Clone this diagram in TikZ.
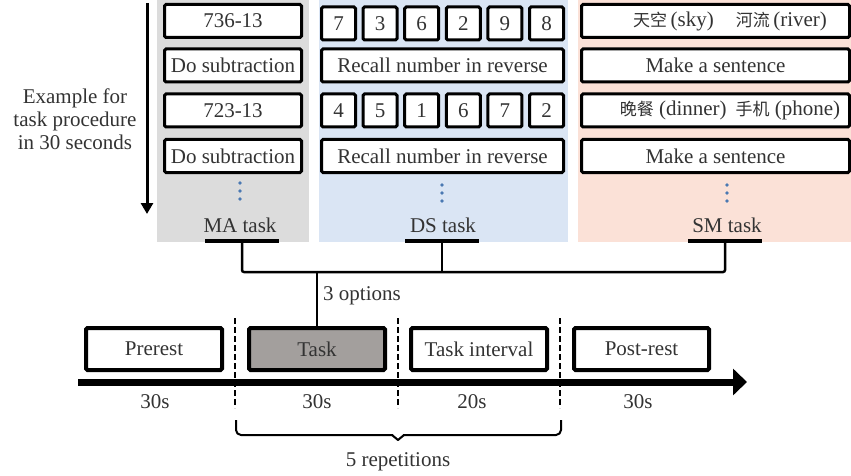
\documentclass[tikz,border=0pt]{standalone}
\usepackage{fontspec}
\setmainfont{Liberation Serif}
\newfontfamily\cjk{Noto Sans CJK SC}
\usetikzlibrary{arrows.meta}

\definecolor{ink}{HTML}{333333}
\definecolor{magray}{HTML}{DCDCDC}
\definecolor{dsblue}{HTML}{DAE5F4}
\definecolor{smpink}{HTML}{FBE1D7}
\definecolor{taskgray}{HTML}{A39F9D}
\definecolor{dotblue}{HTML}{4A78B2}

\begin{document}
\begin{tikzpicture}[x=1pt,y=-1pt,
  lbl/.style={text=ink, font=\fontsize{21}{23}\selectfont, inner sep=0pt, align=center},
  cell/.style={draw=black, line width=3pt, rounded corners=1.5pt, fill=white,
    minimum height=33pt, inner sep=0pt, outer sep=0pt, text=ink,
    font=\fontsize{21}{23}\selectfont},
  digit/.style={cell, minimum width=34pt},
  wide/.style={cell, minimum width=242pt},
  macell/.style={cell, minimum width=137pt},
  smcell/.style={cell, minimum width=268pt},
  stage/.style={cell, line width=4pt, minimum height=42pt, minimum width=136pt},
  bar/.style={fill=black, minimum width=74pt, minimum height=4pt, inner sep=0pt, outer sep=0pt},
  link/.style={draw=black, line width=2.5pt, rounded corners=2pt},
  dot/.style={fill=dotblue, circle, inner sep=0pt, minimum size=3.6pt},
  sep/.style={draw=black, line width=2pt, dash pattern=on 6pt off 3pt}
]
\useasboundingbox (0,0) rectangle (851,476);

% coloured task panels
\fill[magray] (157,0) rectangle (309,242);
\fill[dsblue] (319,0) rectangle (568,242);
\fill[smpink] (578,0) rectangle (851,242);

% time direction of the example procedure
\coordinate (vtop) at (147,3);
\coordinate (vbot) at (147,214);
\draw[line width=3pt, -{Triangle[length=11pt,width=12pt]}] (vtop) -- (vbot);
\node[lbl] (example) at (75,119) {Example for\\task procedure\\in 30 seconds};

% MA task
\node[macell] (ma1) at (233,21) {736-13};
\node[macell] (ma2) at (233,65.5) {Do subtraction};
\node[macell] (ma3) at (233,110.5) {723-13};
\node[macell] (ma4) at (233,156) {Do subtraction};
\node[dot] (mad1) at (240,183) {};
\node[dot] (mad2) at (240,191) {};
\node[dot] (mad3) at (240,199) {};
\node[lbl] (malabel) at (240,225) {MA task};
\node[bar] (mabar) at (242,241) {};

% DS task
\foreach \d [count=\i] in {7,3,6,2,9,8}
  \node[digit] (dsa\i) at ({338.5+41.6*(\i-1)},23.5) {\d};
\node[wide] (ds2) at (442.5,65.5) {Recall number in reverse};
\foreach \d [count=\i] in {4,5,1,6,7,2}
  \node[digit] (dsb\i) at ({338.5+41.6*(\i-1)},110.5) {\d};
\node[wide] (ds4) at (442.5,156) {Recall number in reverse};
\node[dot] (dsd1) at (442,185) {};
\node[dot] (dsd2) at (442,193) {};
\node[dot] (dsd3) at (442,201) {};
\node[lbl] (dslabel) at (443,225) {DS task};
\node[bar] (dsbar) at (442,241) {};

% SM task
\node[smcell] (sm1) at (715.5,21) {};
\node[lbl] (sm1t) at (730,21) {{\cjk\fontsize{17}{20}\selectfont 天空}\,(sky)\hspace{22pt}{\cjk\fontsize{17}{20}\selectfont 河流}\,(river)};
\node[smcell] (sm2) at (715.5,65.5) {Make a sentence};
\node[smcell] (sm3) at (715.5,110.5) {};
\node[lbl] (sm3t) at (730,110.5) {{\cjk\fontsize{17}{20}\selectfont 晚餐} (dinner)\hspace{9pt}{\cjk\fontsize{17}{20}\selectfont 手机} (phone)};
\node[smcell] (sm4) at (715.5,156) {Make a sentence};
\node[dot] (smd1) at (727,185) {};
\node[dot] (smd2) at (727,193) {};
\node[dot] (smd3) at (727,201) {};
\node[lbl] (smlabel) at (727,225) {SM task};
\node[bar] (smbar) at (725,241) {};

% timeline stages
\node[stage] (prerest) at (154,349) {Prerest};
\node[stage, fill=taskgray] (task) at (317,349) {Task};
\node[stage] (interval) at (479,349) {Task interval};
\node[stage, minimum width=135pt] (postrest) at (641.5,349) {Post-rest};

% the three tasks join into the task stage
\coordinate (hub) at (317,272);
\draw[link] (mabar.south) |- (hub);
\draw[link] (smbar.south) |- (hub);
\draw[link] (dsbar.south) -- (dsbar.south |- hub);
\draw[link, rounded corners=0pt] (hub) -- (task.north);
\node[lbl, anchor=west] (options) at (323,296) {3 options};

% time axis
\coordinate (tstart) at (78,382);
\coordinate (tend) at (747,382);
\draw[line width=7pt, -{Triangle[length=14pt,width=26pt]}] (tstart) -- (tend);

% block separators
\coordinate (s1t) at (235,318); \coordinate (s1b) at (235,408);
\coordinate (s2t) at (398,318); \coordinate (s2b) at (398,408);
\coordinate (s3t) at (560,318); \coordinate (s3b) at (560,408);
\draw[sep] (s1t) -- (s1b);
\draw[sep] (s2t) -- (s2b);
\draw[sep] (s3t) -- (s3b);

% durations
\node[lbl] (d1) at (155,402) {30s};
\node[lbl] (d2) at (317,402) {30s};
\node[lbl] (d3) at (472,402) {20s};
\node[lbl] (d4) at (638,402) {30s};

% repeated block
\draw[line width=2pt, rounded corners=5pt, line join=round]
  (236,420) -- (236,435) -- (393,435);
\draw[line width=2pt, rounded corners=5pt, line join=round]
  (561,420) -- (561,435) -- (403,435);
\draw[line width=2pt, line join=round] (392,435) -- (398,440) -- (404,435);
\node[lbl] (reps) at (398,462) {5 repetitions};
\end{tikzpicture}
\end{document}
